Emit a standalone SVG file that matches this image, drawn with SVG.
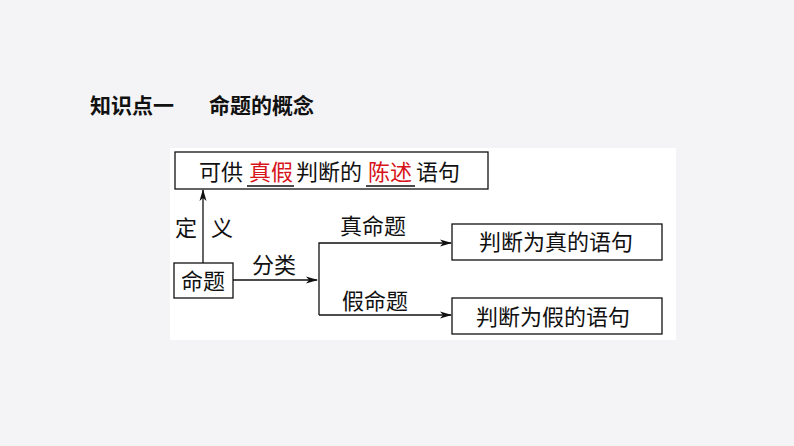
<svg xmlns="http://www.w3.org/2000/svg" width="794" height="446" viewBox="0 0 794 446">
<defs>
<style>
text{font-family:"Noto Sans CJK SC","Noto Sans",sans-serif;font-size:22px;fill:#111}
.b{fill:#fff;stroke:#111;stroke-width:1.3}
.l{stroke:#111;stroke-width:1.3;fill:none}
.r{fill:#d7141a}
</style>
<marker id="a" markerWidth="12" markerHeight="8" refX="11" refY="4" orient="auto" markerUnits="userSpaceOnUse"><path d="M0,0.5 L12,4 L0,7.5 L3,4Z" fill="#111"/></marker>
</defs>
<rect width="794" height="446" fill="#f4f4f6"/>
<rect x="170" y="148" width="506" height="192" fill="#fff"/>
<text x="90" y="113" style="font-weight:bold;font-size:21px">知识点一</text>
<text x="209" y="113" style="font-weight:bold;font-size:21px">命题的概念</text>
<g id="n1"><rect class="b" x="175" y="152" width="313" height="37"/>
<text x="199" y="180">可供</text><text class="r" x="249" y="180">真假</text><text x="296" y="180">判断的</text><text class="r" x="368" y="180">陈述</text><text x="416" y="180">语句</text>
<path class="l" d="M247,186H294M366,186H415"/></g>
<g id="n2"><rect class="b" x="174" y="263" width="59" height="35"/><text x="181" y="289">命题</text></g>
<g id="n3"><rect class="b" x="452" y="224" width="210" height="36"/><text x="479" y="250">判断为真的语句</text></g>
<g id="n4"><rect class="b" x="452" y="298" width="210" height="36"/><text x="476" y="325">判断为假的语句</text></g>
<g id="c">
<path class="l" d="M203,263V190" marker-end="url(#a)"/>
<path class="l" d="M233,280H317" marker-end="url(#a)"/>
<path class="l" d="M319,315V243H451" marker-end="url(#a)"/>
<path class="l" d="M319,315H451" marker-end="url(#a)"/>
<text x="175" y="236">定</text><text x="211" y="236">义</text>
<text x="252" y="273">分类</text>
<text x="340" y="234">真命题</text>
<text x="342" y="309">假命题</text>
</g>
</svg>
